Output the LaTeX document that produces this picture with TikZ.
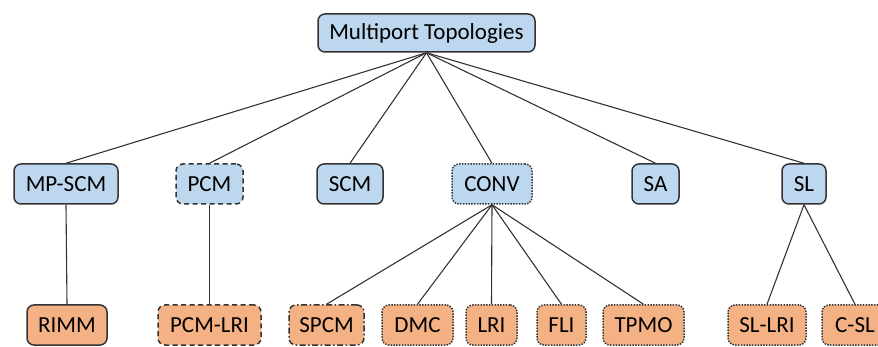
\documentclass[tikz,border=0pt]{standalone}
\usepackage{fontspec}
\setmainfont{Carlito}
\definecolor{topicfill}{HTML}{BDD7EE}
\definecolor{leaffill}{HTML}{F4B183}
\definecolor{boxline}{HTML}{333333}

\begin{document}
\begin{tikzpicture}[x=1pt,y=-1pt,
	box/.style={draw=boxline,line width=1.5pt,rounded corners=7pt,minimum height=40pt,inner sep=0pt,font=\fontsize{23}{27}\selectfont},
	topic/.style={box,fill=topicfill},
	leaf/.style={box,fill=leaffill},
	dashbox/.style={dash pattern=on 5pt off 3.5pt},
	dotbox/.style={dash pattern=on 1.5pt off 1.3pt},
	dashdotbox/.style={dash pattern=on 6pt off 2.5pt on 1.5pt off 2.5pt},
	edge/.style={draw=boxline,line width=1.1pt}]
	\useasboundingbox (0,0) rectangle (878,347);
	
	%ROOT
	\node[topic,minimum width=217pt,minimum height=38pt] (root) at (426.5,33) {Multiport Topologies};
	
	%MIDDLE ROW
	\node[topic,minimum width=104pt] (mpscm) at (66,184) {MP-SCM};
	\node[topic,dashbox,minimum width=67pt] (pcm) at (209.5,184) {PCM};
	\node[topic,minimum width=66pt] (scm) at (350,184) {SCM};
	\node[topic,dotbox,minimum width=80pt] (conv) at (492,184) {CONV};
	\node[topic,minimum width=47pt] (sa) at (655.5,184) {SA};
	\node[topic,minimum width=44pt] (sl) at (804,184) {SL};
	
	%BOTTOM ROW
	\node[leaf,minimum width=80pt] (rimm) at (67,325) {RIMM};
	\node[leaf,dashbox,minimum width=103pt] (pcmlri) at (209.5,325) {PCM-LRI};
	\node[leaf,dashdotbox,minimum width=75pt] (spcm) at (326.5,325) {SPCM};
	\node[leaf,dotbox,minimum width=71pt] (dmc) at (417.5,325) {DMC};
	\node[leaf,dotbox,minimum width=51pt] (lri) at (491.5,325) {LRI};
	\node[leaf,dotbox,minimum width=49pt] (fli) at (561.5,325) {FLI};
	\node[leaf,dotbox,minimum width=81pt] (tpmo) at (643.5,325) {TPMO};
	\node[leaf,dotbox,minimum width=78pt] (sllri) at (767,325) {SL-LRI};
	\node[leaf,dotbox,minimum width=66pt] (csl) at (855,325) {C-SL};
	
	%EDGES
	\foreach \n in {mpscm,pcm,scm,conv,sa,sl}
		\draw[edge] (root.south) -- (\n.north);
	\draw[edge] (mpscm.south) -- (rimm.north);
	\draw[edge] (pcm.south) -- (pcmlri.north);
	\foreach \n in {spcm,dmc,lri,fli,tpmo}
		\draw[edge] (conv.south) -- (\n.north);
	\foreach \n in {sllri,csl}
		\draw[edge] (sl.south) -- (\n.north);
\end{tikzpicture}
\end{document}
